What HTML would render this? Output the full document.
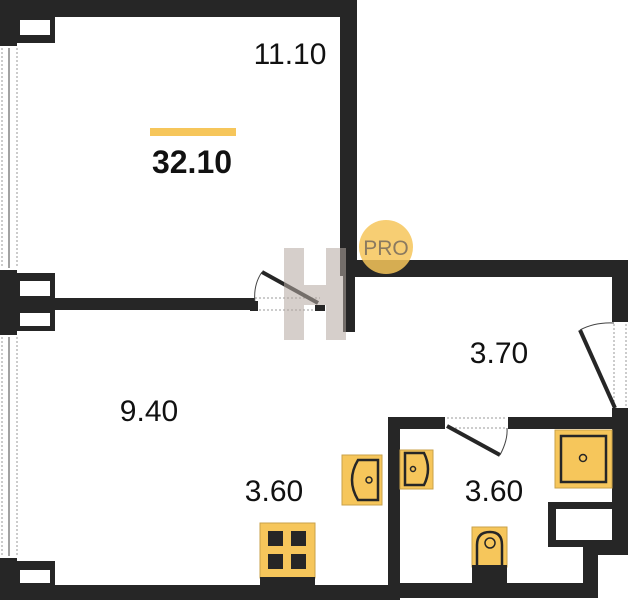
<!DOCTYPE html>
<html><head><meta charset="utf-8"><style>
html,body{margin:0;padding:0;background:#fff;width:630px;height:600px;overflow:hidden}
svg{display:block}
text{font-family:"Liberation Sans",sans-serif}
</style></head><body>
<svg width="630" height="600" viewBox="0 0 630 600">
<g fill="#262626">
<rect x="0" y="0" width="357" height="17"/>
<rect x="0" y="0" width="17" height="46"/>
<rect x="17" y="17" width="38" height="26"/>
<rect x="340" y="0" width="17" height="276"/>
<rect x="343" y="270" width="12" height="62"/>
<rect x="0" y="270" width="17" height="65"/>
<rect x="17" y="273" width="38" height="58"/>
<rect x="17" y="298" width="238" height="12"/>
<rect x="0" y="558" width="17" height="42"/>
<rect x="17" y="561" width="38" height="27"/>
<rect x="0" y="585" width="400" height="15"/>
<rect x="345" y="260" width="283" height="17"/>
<rect x="612" y="260" width="16" height="62"/>
<rect x="612" y="408" width="16" height="147"/>
<rect x="388" y="417" width="12" height="183"/>
<rect x="388" y="417" width="57" height="12"/>
<rect x="508" y="417" width="110" height="12"/>
<rect x="548" y="502" width="80" height="45"/>
<rect x="583" y="540" width="45" height="15"/>
<rect x="583" y="540" width="15" height="58"/>
<rect x="388" y="583" width="210" height="15"/>
</g>
<g fill="#fff">
<rect x="20" y="20" width="30" height="15"/>
<rect x="20" y="281" width="30" height="15"/>
<rect x="20" y="313" width="30" height="13"/>
<rect x="20" y="570" width="30" height="13"/>
<rect x="556" y="509" width="56" height="31"/>
</g>
<g stroke="#444" stroke-width="1" fill="none">
<line x1="9" y1="48" x2="9" y2="268"/>
<line x1="9" y1="337" x2="9" y2="556"/>
</g>
<g stroke="#999" stroke-width="1" stroke-dasharray="2,2" fill="none">
<line x1="2" y1="48" x2="2" y2="268"/><line x1="17" y1="48" x2="17" y2="268"/>
<line x1="2" y1="337" x2="2" y2="556"/><line x1="17" y1="337" x2="17" y2="556"/>
<line x1="255" y1="298" x2="320" y2="298"/><line x1="255" y1="310" x2="320" y2="310"/>
<line x1="614" y1="324" x2="614" y2="408"/><line x1="626" y1="324" x2="626" y2="408"/>
<line x1="447" y1="418" x2="507" y2="418"/><line x1="447" y1="428" x2="507" y2="428"/>
</g>
<g stroke="#262626" stroke-width="4">
<line x1="262" y1="272" x2="318" y2="303"/>
<line x1="580" y1="330" x2="615" y2="408"/>
<line x1="447" y1="426" x2="500" y2="455"/>
</g>
<g stroke="#444" stroke-width="1" fill="none">
<path d="M262 272 Q253 285 255 303"/>
<path d="M580 330 Q595 322 614 323"/>
<path d="M500 455 Q508 440 507 428"/>
</g>
<rect x="250" y="301" width="8" height="10" fill="#262626"/>
<rect x="315" y="305" width="10" height="6" fill="#262626"/>
<g fill="#b5a9a2" opacity="0.55">
<rect x="284" y="248" width="20" height="92"/>
<rect x="326" y="248" width="20" height="92"/>
<rect x="304" y="285" width="22" height="20"/>
</g>
<g fill="#f6c65b" stroke="#c9a24a" stroke-width="1">
<rect x="342" y="455" width="40" height="50"/>
<rect x="400" y="450" width="33" height="39"/>
<rect x="555" y="430" width="57" height="58"/>
<rect x="260" y="523" width="55" height="55"/>
<rect x="472" y="527" width="35" height="40"/>
</g>
<rect x="260" y="577" width="55" height="8" fill="#262626"/>
<rect x="472" y="565" width="35" height="20" fill="#262626"/>
<g fill="none" stroke="#262626" stroke-width="2.5">
<path d="M378 460 L358 460 Q346 480 358 500 L378 500 Z"/>
<path d="M405 453 L424 453 Q432 469 424 485 L405 485 Z"/>
<rect x="561" y="436" width="45" height="46"/>
<path d="M477 565 L477 545 Q477 532 490 532 Q502 532 502 545 L502 565"/>
</g>
<g fill="none" stroke="#262626" stroke-width="1.5">
<circle cx="369" cy="480" r="3"/><circle cx="413" cy="469" r="2.5"/>
<circle cx="583" cy="458" r="3.5"/><circle cx="490" cy="543" r="5"/>
</g>
<g fill="#262626">
<rect x="268" y="531" width="15" height="15"/><rect x="291" y="531" width="15" height="15"/>
<rect x="268" y="554" width="15" height="15"/><rect x="291" y="554" width="15" height="15"/>
</g>
<circle cx="386" cy="247" r="27" fill="#f6c65b" opacity="0.85"/>
<text x="386" y="255" font-size="21" fill="#8a7a60" text-anchor="middle">PRO</text>
<rect x="150" y="128" width="86" height="8" fill="#f6c65b"/>
<text x="192" y="173" font-size="32" font-weight="bold" fill="#111" text-anchor="middle">32.10</text>
<g font-size="30" fill="#111" text-anchor="middle">
<text x="290" y="64">11.10</text>
<text x="149" y="421">9.40</text>
<text x="274" y="501">3.60</text>
<text x="494" y="501">3.60</text>
<text x="499" y="363">3.70</text>
</g>
</svg>
</body></html>
